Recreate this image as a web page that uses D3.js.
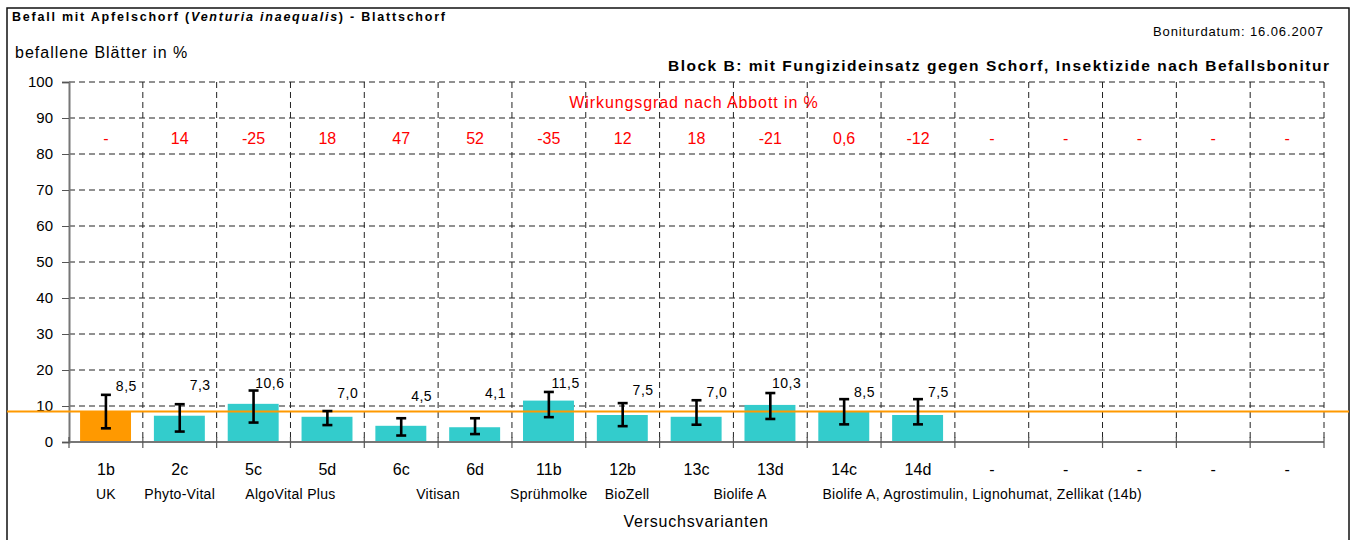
<!DOCTYPE html>
<html>
<head>
<meta charset="utf-8">
<script src="https://cdn.jsdelivr.net/npm/d3@7"></script>
<style>
  body { margin: 0; background: #fff; }
  svg { font-family: "Liberation Sans", Arial, sans-serif; }
</style>
</head>
<body>
<svg id="chart" width="1353" height="540"></svg>
<script>
// Variants and values (befallene Blätter in %)
const codes = ["1b", "2c", "5c", "5d", "6c", "6d", "11b", "12b", "13c", "13d", "14c", "14d", "-", "-", "-", "-", "-"];
const values = [8.5, 7.3, 10.6, 7.0, 4.5, 4.1, 11.5, 7.5, 7.0, 10.3, 8.5, 7.5];
const valueText = ["8,5", "7,3", "10,6", "7,0", "4,5", "4,1", "11,5", "7,5", "7,0", "10,3", "8,5", "7,5"];
// whisker ends of the error bars
const errHigh = [13.1, 10.5, 14.3, 8.6, 6.6, 6.6, 13.9, 10.8, 11.6, 13.6, 11.9, 11.9];
const errLow = [3.8, 2.9, 5.4, 4.7, 1.8, 2.2, 6.9, 4.4, 4.8, 6.4, 4.9, 4.9];
// level of the value labels (hidden helper series)
const labelLevel = [15.4, 15.8, 16.3, 13.7, 12.8, 13.7, 16.3, 14.4, 14.0, 16.3, 14.0, 14.0];
// Wirkungsgrad nach Abbott in %
const abbott = ["-", "14", "-25", "18", "47", "52", "-35", "12", "18", "-21", "0,6", "-12", "-", "-", "-", "-", "-"];
// product names, placed at a (fractional) category index
const names = ["UK", "Phyto-Vital", "AlgoVital Plus", "Vitisan", "Sprühmolke", "BioZell", "Biolife A",
  "Biolife A, Agrostimulin, Lignohumat, Zellikat (14b)"];
const namePos = [0, 1, 2.5, 4.5, 6, 7.06, 8.59, 11.87];
const yTicks = [0, 10, 20, 30, 40, 50, 60, 70, 80, 90, 100];

const svg = d3.select("#chart");
const margin = { left: 69, right: 29, top: 82, bottom: 98 };
const W = 1353, H = 540;

const x = d3.scaleBand().domain(d3.range(codes.length)).range([margin.left, W - margin.right]).padding(0);
const y = d3.scaleLinear().domain([0, 100]).range([H - margin.bottom, margin.top]);
const bw = x.bandwidth();

// chart border
svg.append("rect").attr("x", 7).attr("y", 8).attr("width", 1342).attr("height", 540)
  .attr("fill", "none").attr("stroke", "#111").attr("stroke-width", 1.5);

// horizontal grid
svg.append("g").selectAll("line").data(yTicks.filter(d => d > 0)).join("line")
  .attr("x1", margin.left).attr("x2", W - margin.right)
  .attr("y1", d => y(d)).attr("y2", d => y(d))
  .attr("stroke", "#222").attr("stroke-dasharray", "6,4");

// vertical grid at category boundaries
svg.append("g").selectAll("line").data(d3.range(1, codes.length + 1)).join("line")
  .attr("x1", d => margin.left + d * bw).attr("x2", d => margin.left + d * bw)
  .attr("y1", y(100)).attr("y2", y(0))
  .attr("stroke", "#222").attr("stroke-dasharray", "6,4");

// bars
svg.append("g").selectAll("rect").data(values).join("rect")
  .attr("x", (d, i) => x(i) + bw * 0.15)
  .attr("width", bw * 0.69)
  .attr("y", d => y(d))
  .attr("height", d => y(0) - y(d))
  .attr("fill", (d, i) => i === 0 ? "#FF9900" : "#33CCCC");

// axes
const yAxis = svg.append("g").attr("transform", `translate(${margin.left},0)`)
  .call(d3.axisLeft(y).tickValues(yTicks).tickSize(7).tickPadding(9));
yAxis.select(".domain").attr("stroke", "#777").attr("stroke-width", 2);
yAxis.selectAll(".tick line").attr("stroke", "#555");
yAxis.selectAll(".tick text").attr("font-size", 15).attr("fill", "#000").attr("font-family", null);

const xAxisG = svg.append("g");
xAxisG.append("line").attr("x1", margin.left).attr("x2", W - margin.right)
  .attr("y1", y(0)).attr("y2", y(0)).attr("stroke", "#777").attr("stroke-width", 2);
xAxisG.selectAll("line.tk").data(d3.range(0, codes.length + 1)).join("line").attr("class", "tk")
  .attr("x1", d => margin.left + d * bw).attr("x2", d => margin.left + d * bw)
  .attr("y1", y(0) - 5).attr("y2", y(0) + 6).attr("stroke", "#555").attr("stroke-width", 1.2);

// orange reference line at UK level
svg.append("line").attr("x1", 7).attr("x2", 1349)
  .attr("y1", y(values[0])).attr("y2", y(values[0]))
  .attr("stroke", "#FF9900").attr("stroke-width", 2);

// error bars
const eb = svg.append("g").attr("stroke", "#000").attr("stroke-width", 2.6);
values.forEach((v, i) => {
  const cx = x(i) + bw / 2;
  eb.append("line").attr("x1", cx).attr("x2", cx).attr("y1", y(errHigh[i])).attr("y2", y(errLow[i]));
  eb.append("line").attr("x1", cx - 5).attr("x2", cx + 5).attr("y1", y(errHigh[i])).attr("y2", y(errHigh[i]));
  eb.append("line").attr("x1", cx - 5).attr("x2", cx + 5).attr("y1", y(errLow[i])).attr("y2", y(errLow[i]));
});

// value labels
svg.append("g").selectAll("text").data(valueText).join("text")
  .attr("x", (d, i) => x(i) + bw - 6)
  .attr("y", (d, i) => y(labelLevel[i]))
  .attr("dy", "0.35em").attr("text-anchor", "end")
  .attr("font-size", 14).attr("letter-spacing", 0.5).text(d => d);

// Abbott efficiency row
svg.append("g").selectAll("text").data(abbott).join("text")
  .attr("x", (d, i) => x(i) + bw / 2).attr("y", 144)
  .attr("text-anchor", "middle").attr("font-size", 16).attr("fill", "#FF0000").text(d => d);
svg.append("text").attr("x", 694).attr("y", 108).attr("text-anchor", "middle")
  .attr("font-size", 16).attr("letter-spacing", 0.9).attr("fill", "#FF0000").text("Wirkungsgrad nach Abbott in %");

// category codes
svg.append("g").selectAll("text").data(codes).join("text")
  .attr("x", (d, i) => x(i) + bw / 2).attr("y", 475)
  .attr("text-anchor", "middle").attr("font-size", 16).text(d => d);

// product names
svg.append("g").selectAll("text").data(names).join("text")
  .attr("x", (d, i) => margin.left + (namePos[i] + 0.5) * bw).attr("y", 499)
  .attr("text-anchor", "middle").attr("font-size", 14).attr("letter-spacing", 0.3).text(d => d);

// axis titles
svg.append("text").attr("x", 696).attr("y", 527).attr("text-anchor", "middle")
  .attr("font-size", 16).attr("letter-spacing", 0.8).text("Versuchsvarianten");
svg.append("text").attr("x", 15).attr("y", 58)
  .attr("font-size", 16).attr("letter-spacing", 1).text("befallene Blätter in %");

// titles
const t = svg.append("text").attr("x", 12).attr("y", 21).attr("font-size", 12.5)
  .attr("font-weight", "bold").attr("textLength", 433).attr("lengthAdjust", "spacing");
t.append("tspan").text("Befall mit Apfelschorf (");
t.append("tspan").attr("font-style", "italic").text("Venturia inaequalis");
t.append("tspan").text(") - Blattschorf");

svg.append("text").attr("x", 1153).attr("y", 36)
  .attr("font-size", 13).attr("textLength", 170).attr("lengthAdjust", "spacing")
  .text("Boniturdatum: 16.06.2007");
svg.append("text").attr("x", 668).attr("y", 71)
  .attr("font-size", 15.5).attr("font-weight", "bold").attr("textLength", 661).attr("lengthAdjust", "spacing")
  .text("Block B: mit Fungizideinsatz gegen Schorf, Insektizide nach Befallsbonitur");
</script>
</body>
</html>
